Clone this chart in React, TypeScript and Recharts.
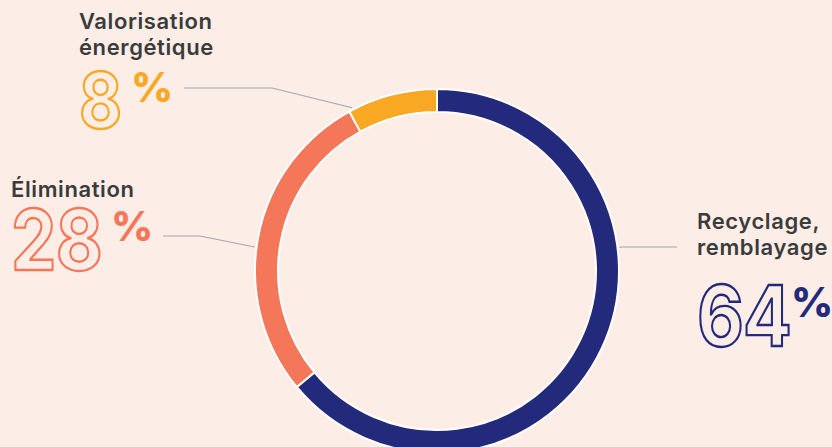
import { PieChart, Pie, Cell } from "recharts"

// Waste treatment shares (%)
const categories = ["Recyclage, remblayage", "Élimination", "Valorisation énergétique"]
const labelLines = [["Recyclage,", "remblayage"], ["Élimination"], ["Valorisation", "énergétique"]]
const shares = [64, 28, 8]

const COLORS = ["#232a7b", "#f47759", "#f9a824"]
const BG = "#fdede7"
const TEXT = "#3b3b3b"
const LEADER = "#a3a6ad"

// label placement per slice (layout only)
const LAYOUT = [
  { x: 697, lines: [229, 255], numY: 346, numSize: 84, pctX: 791, pctY: 317, lead: [677, 247, 622], edge: 7.4 },
  { x: 11, lines: [197], numY: 270, numSize: 84, pctX: 111, pctY: 241, lead: [163, 236, 200], edge: 172.5 },
  { x: 79, lines: [29, 55], numY: 128, numSize: 77, pctX: 131, pctY: 102, lead: [184, 88, 272], edge: 117.5 },
]

const data = categories.map((name, i) => ({ name, value: shares[i], lines: labelLines[i] }))

const RADIAN = Math.PI / 180

function renderLabel(props: any) {
  const { cx, cy, outerRadius, index, value, payload } = props
  const l = LAYOUT[index]
  const color = COLORS[index]
  const ex = cx + (outerRadius + 2) * Math.cos(l.edge * RADIAN)
  const ey = cy - (outerRadius + 2) * Math.sin(l.edge * RADIAN)
  const [a, ly, b] = l.lead
  return (
    <g>
      <polyline points={`${a},${ly} ${b},${ly} ${ex},${ey}`} fill="none" stroke={LEADER} strokeWidth={1.2} />
      {payload.lines.map((t: string, k: number) => (
        <text key={k} x={l.x} y={l.lines[k]} fill={TEXT} fontSize={22} fontWeight={600} letterSpacing={0.6} fontFamily="Inter, 'Noto Sans', sans-serif">
          {t}
        </text>
      ))}
      <text
        x={0}
        y={0}
        transform={`translate(${l.x},${l.numY}) scale(0.86,1)`}
        fill="none"
        stroke={color}
        strokeWidth={2.4}
        fontSize={l.numSize}
        fontWeight={700}
        letterSpacing={-1}
        fontFamily="Inter, 'Noto Sans', sans-serif"
      >
        {value}
      </text>
      <text x={l.pctX} y={l.pctY} fill={color} fontSize={41} fontWeight={800} fontFamily="Inter, 'Noto Sans', sans-serif">
        %
      </text>
    </g>
  )
}

export default function App() {
  return (
    <div style={{ position: "absolute", left: 0, top: 0, width: 832, height: 447, background: BG, overflow: "hidden" }}>
      <PieChart width={832} height={447} margin={{ top: 0, right: 0, bottom: 0, left: 0 }}>
        <Pie
          data={data}
          dataKey="value"
          cx={437}
          cy={271}
          innerRadius={159}
          outerRadius={182}
          startAngle={90}
          endAngle={-270}
          stroke="#ffffff"
          strokeWidth={2}
          label={renderLabel}
          labelLine={false}
          isAnimationActive={false}
        >
          {data.map((entry, index) => (
            <Cell key={`cell-${index}`} fill={COLORS[index]} />
          ))}
        </Pie>
      </PieChart>
    </div>
  )
}
